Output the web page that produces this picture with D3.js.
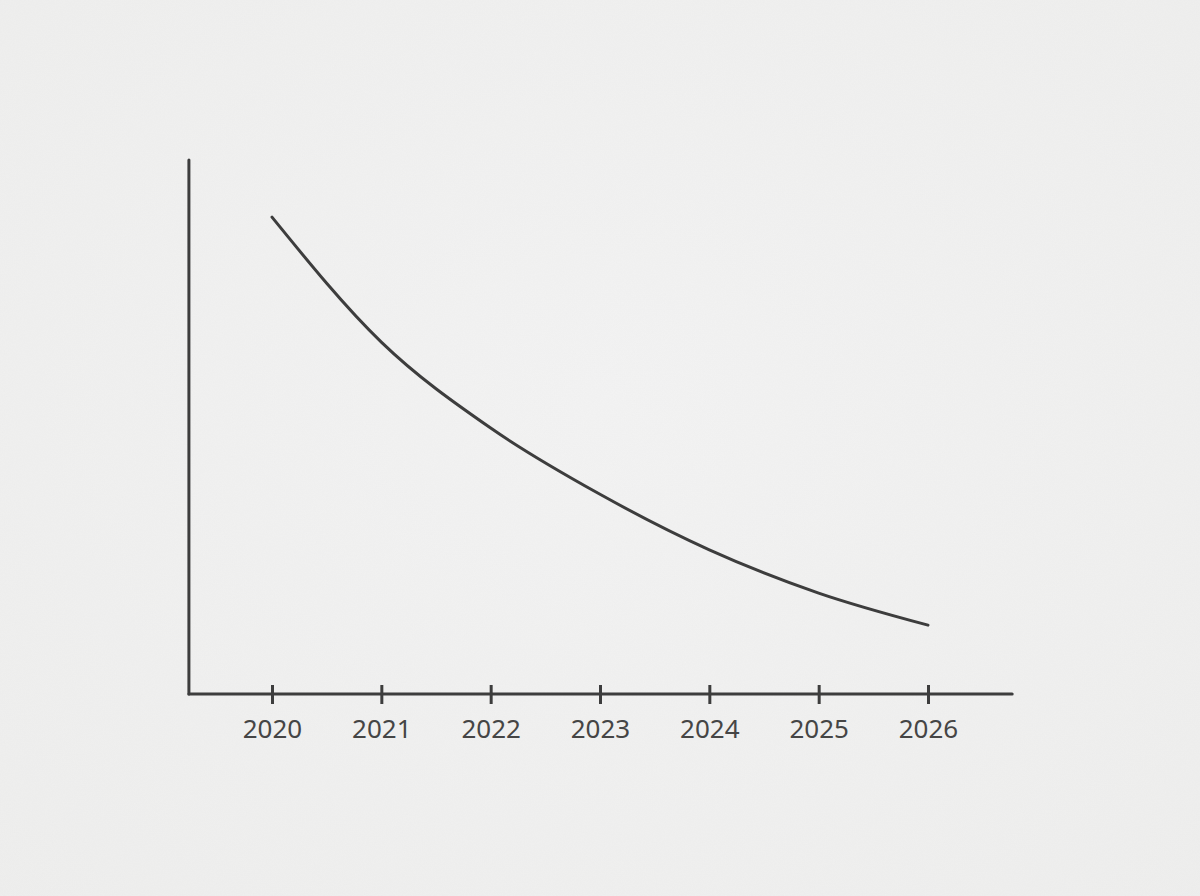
<!DOCTYPE html>
<html>
<head>
<meta charset="utf-8">
<script src="https://cdn.jsdelivr.net/npm/d3@7"></script>
<style>
  html, body { margin: 0; padding: 0; background: #f1f1f0; }
  svg { display: block; }
</style>
</head>
<body>
<svg id="chart" width="1200" height="896"></svg>
<script>
// values (y is an arbitrary 0-100 scale, no y labels shown)
var years = [2020, 2021, 2022, 2023, 2024, 2025, 2026];
var values = [89.3, 65.9, 49.8, 37.4, 27.0, 18.9, 12.9];
var tickLabels = ["2020", "2021", "2022", "2023", "2024", "2025", "2026"];

var ink = "#3d3d3d";
var svg = d3.select("#chart");
var W = 1200, H = 896;

// paper background
var defs = svg.append("defs");
var grad = defs.append("radialGradient").attr("id", "paper").attr("cx", "50%").attr("cy", "45%").attr("r", "80%");
grad.append("stop").attr("offset", "0%").attr("stop-color", "#f3f3f3");
grad.append("stop").attr("offset", "100%").attr("stop-color", "#eeeeed");

var noise = defs.append("filter").attr("id", "grain").attr("x", 0).attr("y", 0).attr("width", "100%").attr("height", "100%");
noise.append("feTurbulence").attr("type", "fractalNoise").attr("baseFrequency", 0.9).attr("numOctaves", 2).attr("seed", 3);
noise.append("feColorMatrix").attr("type", "matrix")
    .attr("values", "0 0 0 0 0.5  0 0 0 0 0.5  0 0 0 0 0.5  0 0 0 0.06 0");

svg.append("rect").attr("width", W).attr("height", H).attr("fill", "url(#paper)");
svg.append("rect").attr("width", W).attr("height", H).attr("filter", "url(#grain)");

// scales
var x = d3.scaleLinear().domain([2020, 2026]).range([272, 928]);
var y = d3.scaleLinear().domain([0, 100]).range([694, 160]);

var axisLeftX = x(2019.24), axisRightX = x(2026.77);

var g = svg.append("g");

// y axis line (no ticks)
g.append("line")
    .attr("x1", axisLeftX).attr("x2", axisLeftX)
    .attr("y1", y(100)).attr("y2", y(0))
    .attr("stroke", ink).attr("stroke-width", 3).attr("stroke-linecap", "round");

// x axis line
g.append("line")
    .attr("x1", axisLeftX).attr("x2", axisRightX)
    .attr("y1", y(0)).attr("y2", y(0))
    .attr("stroke", ink).attr("stroke-width", 3).attr("stroke-linecap", "round");

// x axis ticks + labels
var xAxis = d3.axisBottom(x)
    .tickValues(years)
    .tickFormat(function(d, i){ return tickLabels[i]; })
    .tickSize(10)
    .tickPadding(24);

var ax = g.append("g")
    .attr("transform", "translate(0," + y(0) + ")")
    .call(xAxis);

ax.select(".domain").remove();
ax.selectAll(".tick line")
    .attr("y1", -9)
    .attr("y2", 10)
    .attr("stroke", ink)
    .attr("stroke-width", 3);
ax.selectAll(".tick text")
    .attr("y", 44)
    .attr("dy", 0)
    .attr("fill", "#454545")
    .style("font-family", "'Noto Sans', Lato, sans-serif")
    .style("font-size", "26px")
    .style("font-weight", "400");

// the curve
var data = years.map(function(d, i){ return {year: d, value: values[i]}; });

var line = d3.line()
    .x(function(d){ return x(d.year); })
    .y(function(d){ return y(d.value); })
    .curve(d3.curveMonotoneX);

g.append("path")
    .datum(data)
    .attr("d", line)
    .attr("fill", "none")
    .attr("stroke", ink)
    .attr("stroke-width", 3)
    .attr("stroke-linecap", "round")
    .attr("stroke-linejoin", "round");
</script>
</body>
</html>
